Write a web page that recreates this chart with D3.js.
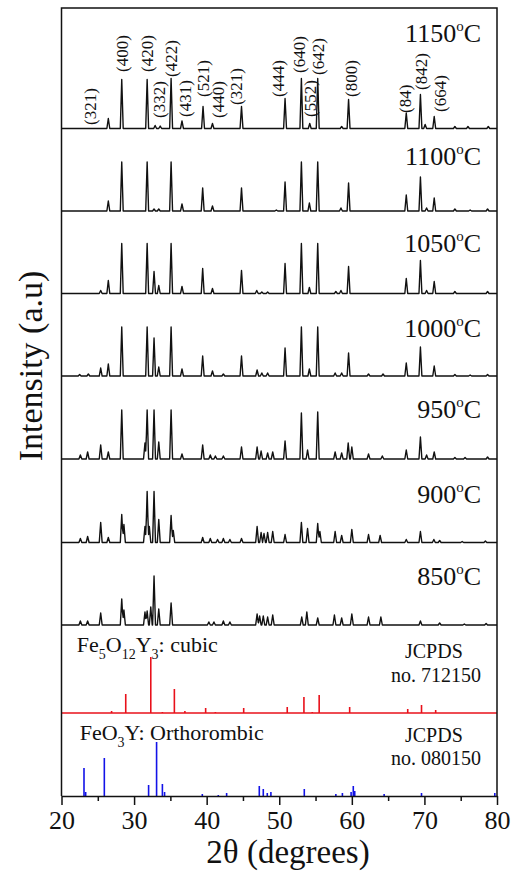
<!DOCTYPE html>
<html>
<head>
<meta charset="utf-8">
<script src="https://cdn.jsdelivr.net/npm/d3@7"></script>
<style>
  html, body { margin: 0; padding: 0; background: #fff; }
  svg text { font-family: "Liberation Serif", "Times New Roman", serif; fill: #111; }
</style>
</head>
<body>
<svg id="chart" width="512" height="875"></svg>
<script>
// ---------------- DATA ----------------
// Sample temperatures (top to bottom) and their stacking offsets (intensity units)
const temps = ["1150", "1100", "1050", "1000", "950", "900", "850"];
const offsets = [1335, 1170, 1005, 840, 674, 507, 342];
const tempLabelLevel = [173, 92, 83, 78, 82, 79, 80];

// Peaks of each measured pattern: [2theta, intensity]
const s1150 = [[26.45,20],[28.3,98],[31.8,98],[32.9,6],[33.6,5],[35.1,100],[36.6,15],[39.5,44],[40.8,10],[44.8,44],[50.8,60],[53.05,100],[54.2,10],[55.3,100],[58.6,4],[59.55,58],[67.5,31],[69.45,68],[70.1,8],[71.35,24],[74.2,4],[76.0,4],[78.8,4]];
const s1100 = [[26.45,20],[28.3,98],[31.8,98],[32.75,4],[33.4,4],[35.1,98],[36.6,14],[39.45,46],[40.8,10],[44.8,46],[49.6,2],[50.8,58],[53.05,98],[54.15,16],[55.3,98],[58.5,6],[59.55,56],[67.5,32],[69.45,68],[70.3,6],[71.35,26],[74.2,4],[76.3,2],[78.7,4]];
const s1050 = [[25.4,6],[26.45,26],[28.3,100],[31.8,100],[32.75,44],[33.4,16],[35.1,100],[36.6,14],[39.45,50],[40.8,10],[44.8,46],[46.9,6],[47.6,3],[48.4,3],[50.8,60],[53.05,100],[54.15,12],[55.3,100],[57.8,4],[58.5,6],[59.55,54],[67.5,30],[69.45,66],[70.3,6],[71.35,24],[74.2,4],[78.7,4]];
const s1000 = [[22.5,3],[23.7,4],[25.4,16],[26.45,24],[28.3,98],[31.8,98],[32.75,76],[33.4,18],[35.1,98],[36.6,14],[39.45,40],[40.8,10],[42.3,4],[44.8,40],[46.95,12],[47.6,6],[48.4,6],[50.8,56],[53.05,98],[54.15,14],[55.3,98],[57.7,6],[58.6,6],[59.55,46],[62.3,4],[64.3,4],[67.5,26],[69.45,58],[71.35,20],[74.2,3],[76.3,2],[78.7,3]];
const s950 = [[22.6,8],[23.6,14],[25.4,28],[26.45,14],[28.3,98],[31.5,32],[31.8,98],[32.75,98],[33.4,34],[35.1,98],[36.6,10],[39.45,28],[40.5,8],[41.2,6],[42.3,6],[44.8,24],[46.95,24],[47.5,16],[48.4,12],[49.1,14],[50.8,36],[53.05,92],[53.9,18],[55.3,94],[57.7,14],[58.6,12],[59.5,32],[60.0,24],[62.3,10],[64.2,6],[67.5,18],[69.45,44],[70.3,8],[71.35,14],[74.2,3],[75.6,3],[78.7,4]];
const s900 = [[22.6,8],[23.6,12],[25.4,40],[26.45,10],[28.3,56],[28.6,36],[31.5,32],[31.8,102],[32.1,32],[32.75,102],[33.4,46],[35.1,54],[35.4,24],[39.45,10],[40.5,8],[41.5,6],[42.3,8],[43.2,6],[44.8,8],[46.95,32],[47.5,20],[47.9,18],[48.4,20],[49.1,22],[50.8,16],[53.05,40],[53.9,28],[55.3,38],[55.6,22],[57.7,22],[58.6,14],[60.0,26],[62.3,16],[63.9,14],[67.5,6],[69.45,22],[71.3,6],[72.1,4],[75.2,2],[78.4,3]];
const s850 = [[22.6,8],[23.6,8],[25.4,24],[28.3,52],[28.6,30],[31.5,26],[31.8,28],[32.3,36],[32.75,98],[33.4,32],[35.1,44],[40.3,6],[41.0,6],[42.3,8],[43.2,6],[46.95,22],[47.3,18],[47.8,18],[48.4,16],[49.1,20],[53.1,16],[53.8,26],[55.3,14],[57.6,20],[58.6,14],[60.0,22],[62.3,16],[64.0,16],[69.45,8],[72.1,4],[75.5,2],[78.5,3]];
const samples = [s1150, s1100, s1050, s1000, s950, s900, s850];

// Miller indices labelled on the 1150 pattern: [label, 2theta, level above baseline]
const hklLabels = [["(321)",23.9,7],["(400)",28.4,113],["(420)",31.8,113],["(332)",33.5,21],["(422)",35.1,103],["(431)",37.0,23],["(521)",39.5,63],["(440)",41.5,21],["(321)",44.1,47],["(444)",49.8,63],["(640)",52.7,111],["(552)",54.2,23],["(642)",55.3,107],["(800)",59.9,63],["(84)",67.3,31],["(842)",69.6,77],["(664)",72.2,33]];

// Reference cards (stick patterns)
const cubicOffset = 166;
const cubicSticks = [[26.9,4],[28.85,38],[32.3,112],[33.9,2],[35.55,48],[37.0,4],[39.86,10],[41.2,2],[45.1,10],[51.1,12],[53.4,32],[54.55,2],[55.5,36],[59.7,12],[67.7,8],[69.6,16],[71.55,6]];
const orthoOffset = 0;
const orthoSticks = [[23.1,56],[23.33,8],[25.9,76],[32.0,22],[33.1,108],[33.9,24],[34.2,8],[39.4,4],[41.6,2],[42.75,6],[47.25,20],[47.8,14],[48.35,6],[48.85,8],[53.45,14],[57.8,4],[58.7,6],[59.9,8],[60.2,20],[60.4,10],[64.45,4],[69.6,6],[79.7,6]];

const xTicks = [20, 30, 40, 50, 60, 70, 80];
const xMinorTicks = [25, 35, 45, 55, 65, 75];

// ---------------- CHART ----------------
(function () {
const svg = d3.select("#chart");
const pL = 61.5, pR = 497, pT = 8, pB = 796;
const x = d3.scaleLinear().domain([20, 80]).range([pL, pR]);
const y = d3.scaleLinear().domain([0, 1576]).range([pB, pT]);
const HW = 0.2; // peak half-width (deg)

function profile(peaks) {
  const xs = new Set([20, 80]);
  peaks.forEach(([p]) => { xs.add(p - HW); xs.add(p); xs.add(p + HW); });
  const arr = Array.from(xs).filter(v => v >= 20 && v <= 80).sort((a, b) => a - b);
  return arr.map(v => {
    let s = 0;
    peaks.forEach(([p, h]) => { const d = Math.abs(v - p); if (d < HW) s += h * (1 - d / HW); });
    return [v, s];
  });
}

const g = svg.append("g");

samples.forEach((peaks, i) => {
  const off = offsets[i];
  const line = d3.line().x(d => x(d[0])).y(d => y(off + d[1]));
  g.append("path").attr("d", line(profile(peaks)))
    .attr("fill", "none").attr("stroke", "#111").attr("stroke-width", 1.4)
    .attr("stroke-linejoin", "round");
  const t = g.append("text").attr("x", 481).attr("y", y(off + tempLabelLevel[i]))
    .attr("text-anchor", "end").attr("font-size", 26);
  t.append("tspan").text(temps[i]);
  t.append("tspan").attr("dy", -11).attr("font-size", 15).text("o");
  t.append("tspan").attr("dy", 11).text("C");
});

hklLabels.forEach(([lab, p, lv]) => {
  const px = x(p), py = y(offsets[0] + lv);
  g.append("text").attr("transform", `translate(${px},${py}) rotate(-90)`)
    .attr("dy", "0.35em").attr("font-size", 17).text(lab);
});

function sticks(data, off, color) {
  g.selectAll(null).data(data).enter().append("line")
    .attr("x1", d => x(d[0])).attr("x2", d => x(d[0]))
    .attr("y1", y(off)).attr("y2", d => y(off + d[1]))
    .attr("stroke", color).attr("stroke-width", 1.6);
}
g.append("line").attr("x1", pL).attr("x2", pR).attr("y1", y(cubicOffset)).attr("y2", y(cubicOffset))
  .attr("stroke", "#e8101a").attr("stroke-width", 1.6);
sticks(cubicSticks, cubicOffset, "#e8101a");
sticks(orthoSticks, orthoOffset, "#1212e8");

const c1 = g.append("text").attr("x", x(22.1)).attr("y", y(cubicOffset + 122)).attr("font-size", 22);
c1.append("tspan").text("Fe");
c1.append("tspan").attr("dy", 7).attr("font-size", 14).text("5");
c1.append("tspan").attr("dy", -7).text("O");
c1.append("tspan").attr("dy", 7).attr("font-size", 14).text("12");
c1.append("tspan").attr("dy", -7).text("Y");
c1.append("tspan").attr("dy", 7).attr("font-size", 14).text("3");
c1.append("tspan").attr("dy", -7).text(": cubic");
g.append("text").attr("x", x(71.3)).attr("y", y(cubicOffset + 110)).attr("text-anchor", "middle").attr("font-size", 20).text("JCPDS");
g.append("text").attr("x", x(71.6)).attr("y", y(cubicOffset + 62)).attr("text-anchor", "middle").attr("font-size", 20).text("no. 712150");

const c2 = g.append("text").attr("x", x(22.5)).attr("y", y(orthoOffset + 112)).attr("font-size", 22);
c2.append("tspan").text("FeO");
c2.append("tspan").attr("dy", 7).attr("font-size", 14).text("3");
c2.append("tspan").attr("dy", -7).text("Y: Orthorombic");
g.append("text").attr("x", x(71.3)).attr("y", y(orthoOffset + 108)).attr("text-anchor", "middle").attr("font-size", 20).text("JCPDS");
g.append("text").attr("x", x(71.6)).attr("y", y(orthoOffset + 62)).attr("text-anchor", "middle").attr("font-size", 20).text("no. 080150");

svg.append("path").attr("d", `M${pL},${pB}V${pT}H${pR}V${pB}`)
  .attr("fill", "none").attr("stroke", "#111").attr("stroke-width", 1.5);

const ax = svg.append("g").attr("transform", `translate(0,${pB})`)
  .call(d3.axisBottom(x).tickValues(xTicks).tickSize(9).tickSizeOuter(0).tickPadding(6));
ax.select(".domain").attr("stroke", "#111").attr("stroke-width", 1.5);
ax.selectAll(".tick line").attr("stroke", "#111").attr("stroke-width", 1.5);
ax.selectAll(".tick text").attr("font-size", 26).attr("font-family", "Liberation Serif, Times New Roman, serif").attr("fill", "#111");
const axm = svg.append("g").attr("transform", `translate(0,${pB})`)
  .call(d3.axisBottom(x).tickValues(xMinorTicks).tickSize(5).tickSizeOuter(0).tickFormat(""));
axm.select(".domain").remove();
axm.selectAll(".tick line").attr("stroke", "#111").attr("stroke-width", 1.5);

svg.append("text").attr("x", 288).attr("y", 863).attr("text-anchor", "middle").attr("font-size", 33).text("2θ (degrees)");
svg.append("text").attr("transform", "translate(30,366) rotate(-90)").attr("text-anchor", "middle")
  .attr("dy", "0.35em").attr("font-size", 34).text("Intensity (a.u)");
})();
</script>
</body>
</html>
